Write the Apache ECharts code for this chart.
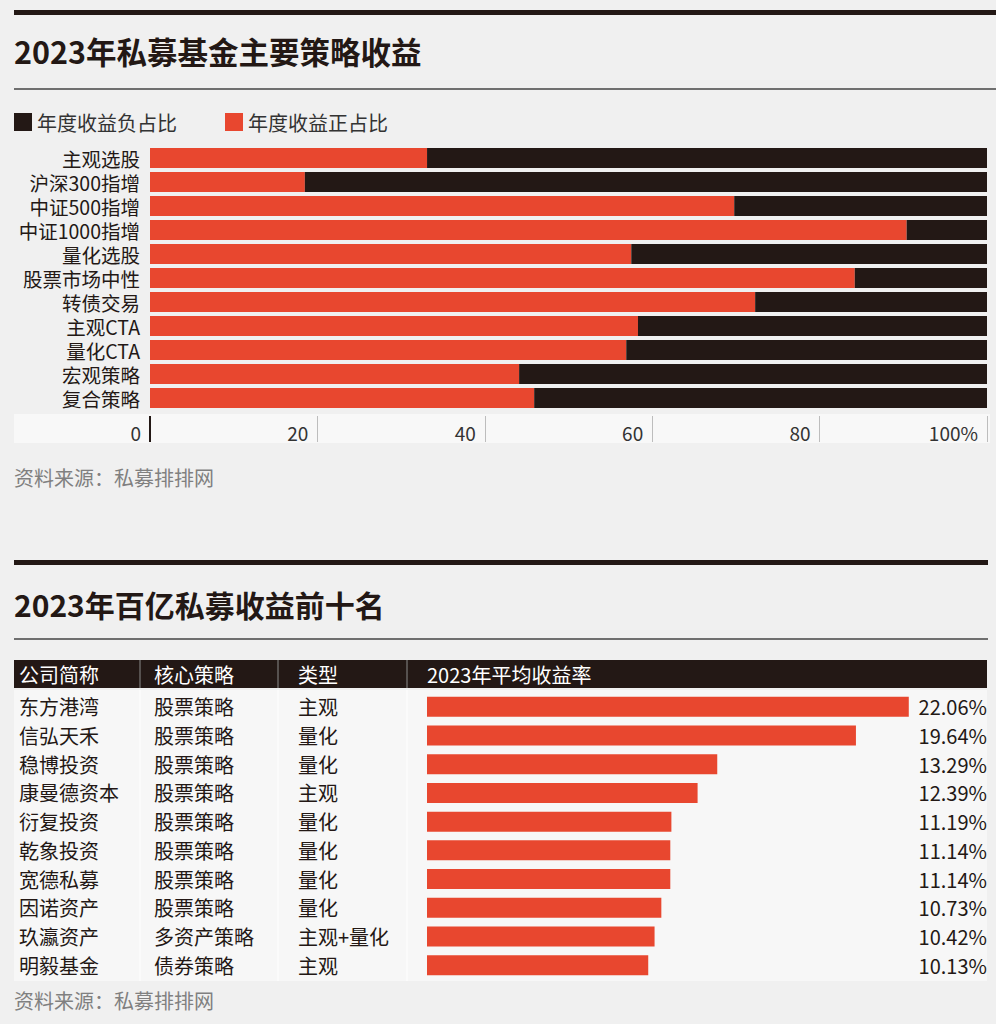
<!DOCTYPE html>
<html>
<head>
<meta charset="utf-8">
<script src="https://cdn.jsdelivr.net/npm/echarts@6.0.0/dist/echarts.min.js"></script>
<style>
html,body{margin:0;padding:0;background:#f0f0f0;}
#c{width:996px;height:1024px;}
</style>
</head>
<body>
<div id="c"></div>
<script>
// ---------- Chart 1 data ----------
const strategies = ['主观选股','沪深300指增','中证500指增','中证1000指增','量化选股','股票市场中性','转债交易','主观CTA','量化CTA','宏观策略','复合策略'];
const positiveShare = [33.1, 18.5, 69.8, 90.4, 57.5, 84.2, 72.3, 58.3, 56.9, 44.1, 45.9];
const negativeShare = [66.9, 81.5, 30.2, 9.6, 42.5, 15.8, 27.7, 41.7, 43.1, 55.9, 54.1];
const xTickLabels = ['0','20','40','60','80','100%'];

// ---------- Table data ----------
const companies = ['东方港湾','信弘天禾','稳博投资','康曼德资本','衍复投资','乾象投资','宽德私募','因诺资产','玖瀛资产','明毅基金'];
const coreStrategies = ['股票策略','股票策略','股票策略','股票策略','股票策略','股票策略','股票策略','股票策略','多资产策略','债券策略'];
const fundTypes = ['主观','量化','量化','主观','量化','量化','量化','量化','主观+量化','主观'];
const avgReturns = [22.06, 19.64, 13.29, 12.39, 11.19, 11.14, 11.14, 10.73, 10.42, 10.13];
const tableHeaders = ['公司简称','核心策略','类型','2023年平均收益率'];

const FONT = '"Noto Sans CJK SC", "Noto Sans", sans-serif';
const RED = '#e8472f';
const BLACK = '#231815';
const TEXT = '#231815';

const chart = echarts.init(document.getElementById('c'), null, {renderer: 'svg'});

const hideAxisParts = {axisLine: {show: false}, axisTick: {show: false}, splitLine: {show: false}};
const tableAxis = (data, margin, position, align) => Object.assign({
  gridIndex: 1, type: 'category', data: data, inverse: true, position: position,
  axisLabel: {interval: 0, align: align, margin: margin, fontSize: 20, lineHeight: 22, color: TEXT, fontFamily: FONT}
}, hideAxisParts);

const option = {
  backgroundColor: '#f0f0f0',
  animation: false,
  textStyle: {fontFamily: FONT},
  legend: {
    left: 14, top: 112, padding: 0, itemWidth: 18, itemHeight: 18, itemGap: 48, icon: 'rect',
    data: ['年度收益负占比','年度收益正占比'],
    textStyle: {fontSize: 20, color: '#333', fontFamily: FONT}
  },
  grid: [
    {left: 150, top: 146, width: 837, height: 264},
    {left: 427, top: 692.5, width: 546, height: 287}
  ],
  xAxis: [
    {
      gridIndex: 0, type: 'value', min: 0, max: 100, interval: 20, position: 'bottom', offset: 6,
      axisLine: {show: false},
      axisTick: {show: true, length: 26, lineStyle: {color: '#bdbdbd', width: 1}},
      splitLine: {show: false},
      axisLabel: {
        fontSize: 19, color: '#333', align: 'right', margin: 7, padding: [0, 9, 0, 0],
        fontFamily: FONT, formatter: (v, i) => xTickLabels[i]
      }
    },
    {gridIndex: 1, type: 'value', min: 0, max: 25, show: false}
  ],
  yAxis: [
    Object.assign({
      gridIndex: 0, type: 'category', data: strategies, inverse: true,
      axisLabel: {interval: 0, fontSize: 19.5, lineHeight: 20, color: TEXT, margin: 10, fontFamily: FONT}
    }, hideAxisParts),
    tableAxis(companies, 408, 'left', 'left'),
    tableAxis(coreStrategies, 273, 'left', 'left'),
    tableAxis(fundTypes, 129, 'left', 'left'),
    tableAxis(avgReturns.map(v => v.toFixed(2) + '%'), 14, 'right', 'right')
  ],
  series: [
    {name: '年度收益正占比', type: 'bar', stack: 'share', xAxisIndex: 0, yAxisIndex: 0,
     data: positiveShare, barWidth: 20, itemStyle: {color: RED}},
    {name: '年度收益负占比', type: 'bar', stack: 'share', xAxisIndex: 0, yAxisIndex: 0,
     data: negativeShare, barWidth: 20, itemStyle: {color: BLACK}},
    {name: '2023年平均收益率', type: 'bar', xAxisIndex: 1, yAxisIndex: 1,
     data: avgReturns, barWidth: 20, itemStyle: {color: RED}}
  ]
};
chart.setOption(option);

// ---------- decorations (layout only) ----------
const txt = (text, x, y, size, color, weight) => ({
  type: 'text', x: x, y: y, z: 10,
  style: {text: text, fontSize: size, fontWeight: weight || 'normal', fontFamily: FONT,
          fill: color, verticalAlign: 'middle', align: 'left'}
});
const hline = (x1, x2, y, w, color) => ({type: 'line', z: 5, shape: {x1: x1, y1: y, x2: x2, y2: y}, style: {stroke: color, lineWidth: w}});
const vline = (x, y1, y2, color) => ({type: 'line', z: 5, shape: {x1: x, y1: y1, x2: x, y2: y2}, style: {stroke: color, lineWidth: 1}});

const zeroX = chart.convertToPixel({xAxisIndex: 0}, 0);
const colX = [140, 278, 407];
const headerX = [19, 154, 298, 427];

const graphics = [
  {type: 'rect', z: -10, shape: {x: 14, y: 10, width: 982, height: 5}, style: {fill: BLACK}},
  txt('2023年私募基金主要策略收益', 14, 51, 30.5, BLACK, 'bold'),
  hline(14, 996, 89, 1.5, '#444'),
  {type: 'rect', z: -10, shape: {x: 14, y: 414, width: 976, height: 29}, style: {fill: '#f8f8f8'}},
  {type: 'line', z: 6, shape: {x1: zeroX, y1: 416, x2: zeroX, y2: 442}, style: {stroke: BLACK, lineWidth: 2}},
  txt('资料来源：私募排排网', 14, 477, 20, '#808080'),

  {type: 'rect', z: -10, shape: {x: 14, y: 560, width: 974, height: 5}, style: {fill: BLACK}},
  txt('2023年百亿私募收益前十名', 14, 604, 30, BLACK, 'bold'),
  hline(14, 988, 639, 1.5, '#444'),
  {type: 'rect', z: -10, shape: {x: 14, y: 660, width: 973, height: 28}, style: {fill: BLACK}},
  {type: 'rect', z: -10, shape: {x: 14, y: 690, width: 973, height: 291}, style: {fill: '#f7f7f7'}},
  txt('资料来源：私募排排网', 14, 1000, 20, '#808080')
];
colX.forEach(x => {
  graphics.push(vline(x, 660, 688, '#8a8a8a'));
  graphics.push(vline(x, 690, 981, '#ffffff'));
});
tableHeaders.forEach((h, i) => graphics.push(txt(h, headerX[i], 674, 20, '#ffffff')));

chart.setOption({graphic: graphics});
</script>
</body>
</html>
